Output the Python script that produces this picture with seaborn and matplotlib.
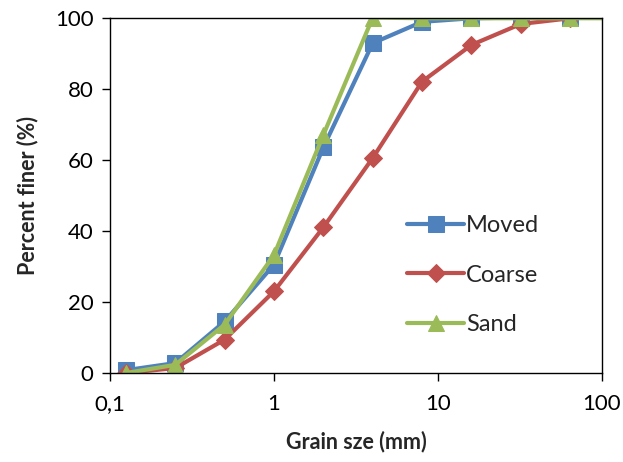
import matplotlib
matplotlib.use("Agg")
import matplotlib.pyplot as plt
import seaborn as sns
import pandas as pd
from matplotlib.ticker import NullLocator, FixedLocator, FixedFormatter

grain = [0.125, 0.25, 0.5, 1, 2, 4, 8, 16, 32, 64]
moved = [0.8, 2.8, 14.5, 30.5, 63.5, 92.8, 98.8, 99.8, 100, 100]
coarse = [0, 1.4, 9.4, 23.0, 41.0, 60.5, 82.0, 92.3, 98.2, 99.8]
sand_grain = [0.125, 0.25, 0.5, 1, 2, 4, 8, 16, 32, 64, 128]
sand = [0, 2.3, 13.6, 33.2, 67.0, 100, 99.8, 99.8, 99.8, 99.8, 99.8]
xticks = [0.1, 1, 10, 100]
xticklabels = ["0,1", "1", "10", "100"]
yticks = [0, 20, 40, 60, 80, 100]

sns.set_style("white")
plt.rcParams['font.family'] = ['Lato', 'DejaVu Sans']

fig = plt.figure(figsize=(6.23, 4.62), dpi=100)
ax = fig.add_axes([0.1766, 0.1926, 0.7897, 0.7694])

series = [
    ("Moved", grain, moved, "#4F81BD", "s", 12),
    ("Coarse", grain, coarse, "#C0504D", "D", 9),
    ("Sand", sand_grain, sand, "#9BBB59", "^", 12),
]
for name, xs, ys, col, mk, ms in series:
    df = pd.DataFrame({"x": xs, "y": ys})
    sns.lineplot(data=df, x="x", y="y", ax=ax, color=col, marker=mk,
                 markersize=ms, markeredgecolor=col, linewidth=3,
                 label=name, sort=False, clip_on=True)

ax.set_xscale("log")
ax.set_xlim(0.1, 100)
ax.set_ylim(0, 100)
ax.xaxis.set_major_locator(FixedLocator(xticks))
ax.xaxis.set_major_formatter(FixedFormatter(xticklabels))
ax.xaxis.set_minor_locator(NullLocator())
ax.set_yticks(yticks)
ax.tick_params(axis="both", which="major", direction="out", length=6,
               width=1, labelsize=16, color="black", labelcolor="black",
               bottom=True, left=True)
ax.tick_params(axis="x", pad=9)
ax.tick_params(axis="y", pad=6)
for sp in ax.spines.values():
    sp.set_color("black")
    sp.set_linewidth(1)

ax.set_xlabel("Grain sze (mm)", fontsize=15.5, fontweight="bold", labelpad=12)
ax.set_ylabel("Percent finer (%)", fontsize=15.5, fontweight="bold", labelpad=12)

leg = ax.legend(loc="upper left", bbox_to_anchor=(0.585, 0.47), frameon=False,
                fontsize=17, handlelength=2.4, labelspacing=1.2,
                handletextpad=0.1, borderaxespad=0)

fig.savefig("out.png", dpi=100)
